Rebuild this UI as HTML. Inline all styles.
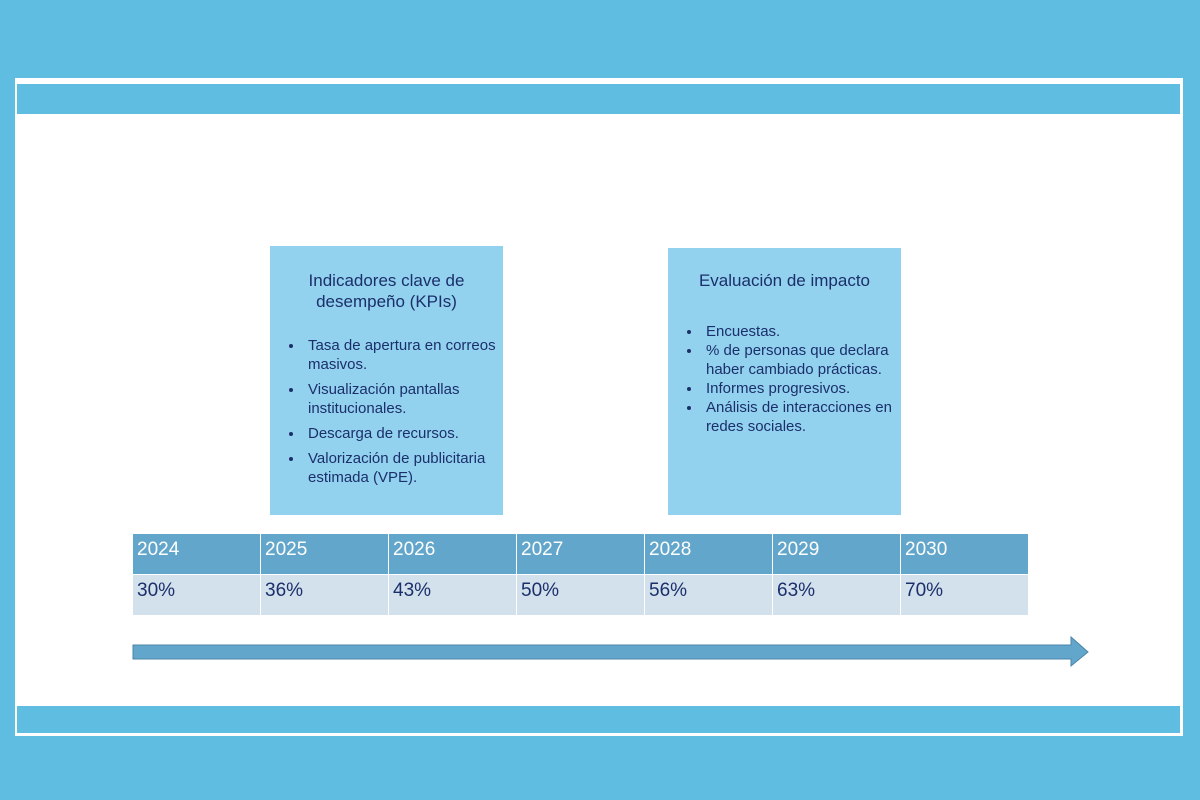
<!DOCTYPE html>
<html><head><meta charset="utf-8"><style>
body{margin:0;width:1200px;height:800px;background:#5fbde1;position:relative;overflow:hidden;font-family:"Liberation Sans",sans-serif;}
.abs{position:absolute;}
.box{background:#93d2ee;color:#1b2f6b;font-size:15px;}
.box h3{font-weight:normal;font-size:17px;text-align:center;margin:0;line-height:21px;}
.box ul{margin:0;padding-left:34px;line-height:19px;}
.box li{margin-bottom:6px;padding-left:4px;}
table{border-collapse:collapse;}
td{width:128px;height:41px;padding:0 0 0 4px;font-size:19px;vertical-align:top;padding-top:5px;box-sizing:border-box;border:1px solid #fff;}
.hd td{background:#62a6cb;color:#fff;}
.vl td{background:#d3e1ec;color:#1b2f6b;}
</style></head><body>
<div class="abs" style="left:15px;top:78px;width:1168px;height:658px;background:#fff;"></div>
<div class="abs" style="left:17px;top:84px;width:1163px;height:30px;background:#5fbde1;"></div>
<div class="abs" style="left:17px;top:706px;width:1163px;height:27px;background:#5fbde1;"></div>
<div class="abs box" style="left:270px;top:246px;width:233px;height:269px;">
<h3 style="margin-top:24px;">Indicadores clave de<br>desempeño (KPIs)</h3>
<ul style="margin-top:24px;">
<li>Tasa de apertura en correos masivos.</li>
<li>Visualización pantallas institucionales.</li>
<li>Descarga de recursos.</li>
<li>Valorización de publicitaria estimada (VPE).</li>
</ul></div>
<div class="abs box" style="left:668px;top:248px;width:233px;height:267px;">
<h3 style="margin-top:22px;">Evaluación de impacto</h3>
<ul style="margin-top:31px;">
<li style="margin-bottom:0">Encuestas.</li>
<li style="margin-bottom:0">% de personas que declara haber cambiado prácticas.</li>
<li style="margin-bottom:0">Informes progresivos.</li>
<li style="margin-bottom:0">Análisis de interacciones en redes sociales.</li>
</ul></div>
<table class="abs" style="left:132px;top:533px;">
<tr class="hd" id="hd"></tr><tr class="vl" id="vl"></tr>
</table>
<svg class="abs" style="left:0;top:0" width="1200" height="800">
<polygon points="133,645 1071,645 1071,637 1088,652 1071,666 1071,659 133,659" fill="#62a6cb" stroke="#4a86a8" stroke-width="1"/>
</svg>
<script>
const years=["2024","2025","2026","2027","2028","2029","2030"];
const values=["30%","36%","43%","50%","56%","63%","70%"];
const hd=document.getElementById('hd'),vl=document.getElementById('vl');
years.forEach((y,i)=>{
const a=document.createElement('td');a.textContent=y;


hd.appendChild(a);
const b=document.createElement('td');b.textContent=values[i];


vl.appendChild(b);
});
</script>
</body></html>
